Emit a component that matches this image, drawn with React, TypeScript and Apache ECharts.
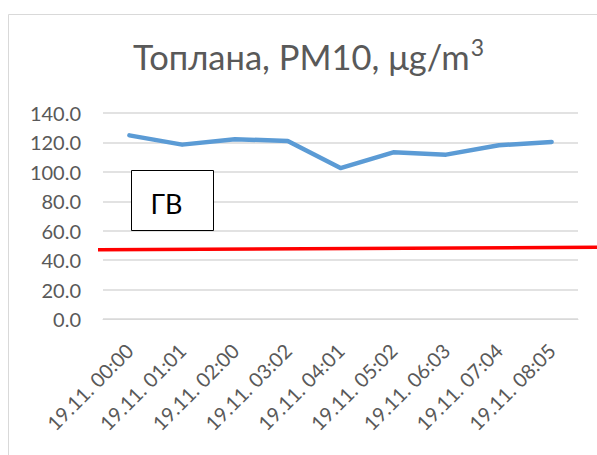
import React, { useEffect, useRef } from "react";
import * as echarts from "echarts";

const categories = [
  "19.11. 00:00",
  "19.11. 01:01",
  "19.11. 02:00",
  "19.11. 03:02",
  "19.11. 04:01",
  "19.11. 05:02",
  "19.11. 06:03",
  "19.11. 07:04",
  "19.11. 08:05",
];
const pm10Values = [124.8, 118.5, 122.2, 121.0, 102.6, 113.3, 111.7, 118.1, 120.3];
const limitLine = [
  [0, 47.1],
  [1, 48.7],
];
const yMin = 0;
const yMax = 140;
const yInterval = 20;
const titleMain = "Топлана, PM10, μg/m";
const titleSup = "3";
const boxLabel = "ГВ";

const FONT = "Lato, 'Open Sans', sans-serif";
const TEXT_GRAY = "#595959";

export default function App() {
  const ref = useRef<HTMLDivElement>(null);
  useEffect(() => {
    if (!ref.current) return;
    const chart = echarts.init(ref.current, undefined, { renderer: "svg" });
    chart.setOption({
      animation: false,
      backgroundColor: "#ffffff",
      title: {
        text: `{main|${titleMain}}{sup|${titleSup}}`,
        left: 133,
        top: 35,
        padding: 0,
        textStyle: {
          fontFamily: FONT,
          fontSize: 34.5,
          fontWeight: "normal",
          color: TEXT_GRAY,
          rich: {
            main: { fontFamily: FONT, fontSize: 34.5, color: TEXT_GRAY, lineHeight: 39, verticalAlign: "bottom" },
            sup: { fontFamily: FONT, fontSize: 23, color: TEXT_GRAY, lineHeight: 39, verticalAlign: "top", padding: [0, 0, 13, 1] },
          },
        },
      },
      grid: [
        { left: 103, right: 19, top: 113, bottom: 136, containLabel: false, outerBoundsMode: "none" },
        { left: 98, right: 0, top: 113, bottom: 136, containLabel: false, outerBoundsMode: "none" },
      ],
      xAxis: [
        {
          type: "category",
          gridIndex: 0,
          data: categories,
          boundaryGap: true,
          axisLine: { show: true, lineStyle: { color: "#d9d9d9", width: 1 } },
          axisTick: { show: false },
          axisLabel: {
            rotate: 45,
            interval: 0,
            margin: 28,
            color: TEXT_GRAY,
            fontFamily: FONT,
            fontSize: 20,
          },
        },
        { type: "value", gridIndex: 1, min: 0, max: 1, show: false },
      ],
      yAxis: [
        {
          type: "value",
          gridIndex: 0,
          min: yMin,
          max: yMax,
          interval: yInterval,
          axisLine: { show: false },
          axisTick: { show: false },
          splitLine: { lineStyle: { color: "#d9d9d9", width: 1.5 } },
          axisLabel: {
            margin: 22,
            color: TEXT_GRAY,
            fontFamily: FONT,
            fontSize: 20,
            formatter: (v: number) => v.toFixed(1),
          },
        },
        { type: "value", gridIndex: 1, min: yMin, max: yMax, show: false },
      ],
      series: [
        {
          type: "line",
          name: "PM10",
          xAxisIndex: 0,
          yAxisIndex: 0,
          data: pm10Values,
          symbol: "none",
          lineStyle: { color: "#5b9bd5", width: 4.5, cap: "round", join: "round" },
          z: 3,
        },
        {
          type: "line",
          name: "ГВ",
          xAxisIndex: 1,
          yAxisIndex: 1,
          data: limitLine,
          symbol: "none",
          lineStyle: { color: "#ff0000", width: 3.5 },
          z: 2,
        },
      ],
      graphic: [
        {
          type: "rect",
          shape: { x: 8.5, y: 14.5, width: 700, height: 600 },
          style: { fill: "none", stroke: "#d9d9d9", lineWidth: 1 },
          silent: true,
          z: -1,
        },
        {
          type: "rect",
          shape: { x: 131.5, y: 170.5, width: 82, height: 60 },
          style: { fill: "#ffffff", stroke: "#000000", lineWidth: 1 },
          z: 10,
        },
        {
          type: "text",
          x: 166.5,
          y: 203,
          style: {
            text: boxLabel,
            fill: "#000000",
            fontSize: 27,
            fontFamily: FONT,
            align: "center",
            verticalAlign: "middle",
          },
          z: 11,
        },
      ],
    });
    return () => chart.dispose();
  }, []);
  return (
    <div
      ref={ref}
      style={{ position: "fixed", left: 0, top: 0, width: 597, height: 455 }}
    />
  );
}
